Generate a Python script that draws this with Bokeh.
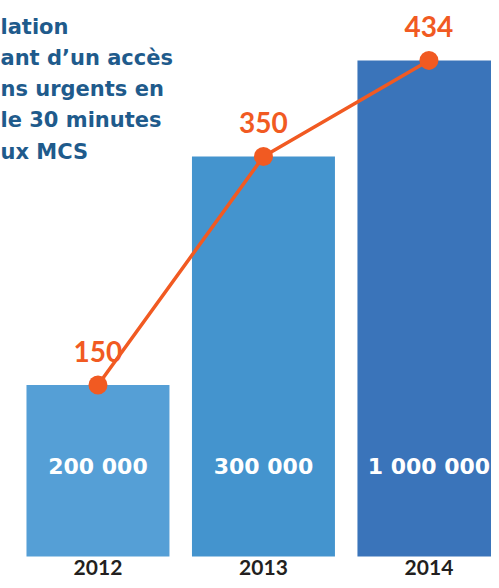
from bokeh.plotting import figure
from bokeh.models import ColumnDataSource, Range1d, Label
from bokeh.core.properties import value
from bokeh.embed import file_html
from bokeh.resources import INLINE

# ---- data ----
years = ["2012", "2013", "2014"]
population = [200000, 300000, 1000000]
access_minutes = [150, 350, 434]
title_lines = ["lation", "ant d\u2019un acc\u00e8s", "ns urgents en", "le 30 minutes", "ux MCS"]

bar_colors = ["#559FD6", "#4494CE", "#3A74BA"]
ORANGE = "#F15A22"
TITLE_BLUE = "#1F5B8C"
FONT = "Lato"
WIDE = "DejaVu Sans"

pop_labels = [f"{v:,}".replace(",", " ") for v in population]
positions = list(range(len(years)))

src = ColumnDataSource(dict(pos=positions, year=years, access=access_minutes,
                            pop_label=pop_labels, color=bar_colors))

p = figure(width=491, height=580, output_backend="svg", toolbar_location=None,
           x_range=Range1d(-0.589, 2.378), y_range=Range1d(-21.0, 486.4),
           x_axis_location=None, y_axis_location=None,
           min_border_left=0, min_border_right=0, min_border_top=0,
           min_border_bottom=0)
p.outline_line_color = None
p.grid.visible = False
p.background_fill_color = "white"

p.vbar(x="pos", top="access", width=0.864, bottom=0, color="color",
       line_color=None, source=src)

p.line(x="pos", y="access", line_color=ORANGE, line_width=3.5, source=src)
p.scatter(x="pos", y="access", size=19, fill_color=ORANGE, line_color=None, source=src)

# line value labels
p.text(x="pos", y="access", text="access", source=src, y_offset=-34,
       text_align="center", text_baseline="middle", text_color=ORANGE,
       text_font=value(FONT), text_font_style="bold", text_font_size="28px")

# population labels inside bars
p.text(x="pos", y=0, text="pop_label", source=src, y_offset=-90,
       text_align="center", text_baseline="middle", text_color="white",
       text_font=value(WIDE), text_font_style="bold", text_font_size="22px")

# category labels
p.text(x="pos", y=0, text="year", source=src, y_offset=11,
       text_align="center", text_baseline="middle", text_color="#231F20",
       text_font=value(FONT), text_font_style="bold", text_font_size="21px")

base = 554
for i, line in enumerate(title_lines):
    p.add_layout(Label(x=0, y=base - i * 31.3, x_units="screen", y_units="screen",
                       text=line, text_font=WIDE, text_font_style="bold",
                       text_font_size="21px", text_color=TITLE_BLUE,
                       text_baseline="alphabetic", text_align="left"))

open("out.html", "w").write(file_html(p, INLINE))
